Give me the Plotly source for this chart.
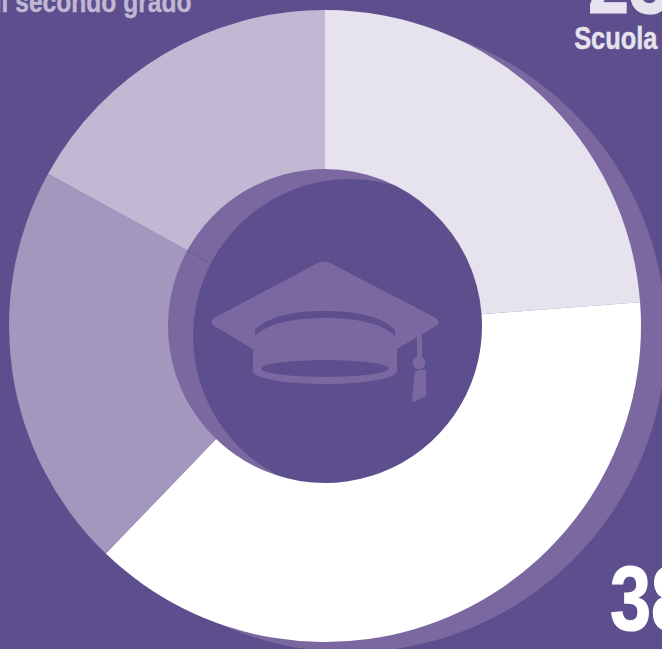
import math
import plotly.graph_objects as go

# Share of each school level, clockwise from twelve o'clock
levels = ["Scuola", "Scuola primaria", "Scuola secondaria di primo grado", "Scuola secondaria di secondo grado"]
shares = [23.8, 38.4, 20.8, 17.0]
slice_colors = ["#e6e3ef", "#ffffff", "#a397bd", "#c1b8d4"]

BG = "#5d4f8e"
SHADOW = "#7b68a0"
W, H = 662, 649
CX, CY, R, HOLE = 325, 326, 316, 157
DX, DY = 25, 10
FONT = "Liberation Sans"

# Narrows every annotation to condensed proportions and thickens its strokes a little
CONDENSE = """
document.querySelectorAll('text.annotation-text').forEach(function (t) {
  var big = parseFloat(getComputedStyle(t).fontSize) > 50;
  t.setAttribute('lengthAdjust', 'spacingAndGlyphs');
  t.setAttribute('textLength', t.getComputedTextLength() * 0.82);
  t.style.stroke = getComputedStyle(t).fill;
  t.style.strokeWidth = big ? '1.2px' : '0.4px';
});
"""


def px(x):
    return x / W


def py(y):
    return 1 - y / H


def path(cmds):
    """Build an SVG path in paper coordinates from pixel-space commands."""
    out = []
    for c in cmds:
        if isinstance(c, str):
            out.append(c)
        else:
            out.append(f"{px(c[0]):.5f},{py(c[1]):.5f}")
    return " ".join(out)


def ellipse(cx, cy, rx, ry, color, layer="below"):
    return dict(type="circle", xref="paper", yref="paper", layer=layer,
                x0=px(cx - rx), x1=px(cx + rx), y0=py(cy + ry), y1=py(cy - ry),
                fillcolor=color, line=dict(width=0))


def filled(cmds, color):
    return dict(type="path", xref="paper", yref="paper", layer="above",
                path=path(cmds), fillcolor=color, line=dict(width=0))


# Divider that carries the last slice boundary across the visible ring
angle = math.radians(360 * (1 - shares[3] / sum(shares)))
p_out = (CX + HOLE * math.sin(angle), CY - HOLE * math.cos(angle))
p_in = (CX + 133 * math.sin(angle), CY - 133 * math.cos(angle))

shapes = [
    ellipse(CX + DX, CY + DY, R, R, SHADOW),
    ellipse(CX + DX, CY + DY, HOLE, HOLE, BG),
    dict(type="line", xref="paper", yref="paper", layer="below",
         x0=px(p_out[0]), y0=py(p_out[1]), x1=px(p_in[0]), y1=py(p_in[1]),
         line=dict(color=BG, width=0.6)),
    # Graduation cap: board and body
    filled(["M", (316, 264), "Q", (324, 259), (332, 264), "L", (436, 318),
            "Q", (441, 322), (436, 326), "L", (397, 349), "L", (397, 371),
            "C", (397, 379), (360, 384), (325, 384), "C", (290, 384), (253, 379), (253, 371),
            "L", (253, 349), "L", (214, 326), "Q", (209, 322), (214, 318), "Z"], SHADOW),
    # Band under the board
    filled(["M", (255, 336), "L", (255, 330), "C", (268, 316), (295, 311), (325, 311),
            "C", (355, 311), (382, 316), (395, 330), "L", (395, 336),
            "C", (382, 323), (355, 318), (325, 318), "C", (295, 318), (268, 323), (255, 336), "Z"], BG),
    # Opening of the cap
    ellipse(325, 368.5, 64, 8.5, BG, layer="above"),
    # Tassel cord, knot and fringe
    filled(["M", (417, 335), "L", (422, 332), "L", (422, 360), "L", (417, 360), "Z"], SHADOW),
    ellipse(419, 363, 6.5, 6.5, SHADOW, layer="above"),
    filled(["M", (415, 371), "L", (426, 369), "L", (426, 396), "L", (414, 402),
            "L", (412, 400), "Z"], SHADOW),
]

annotations = [
    dict(text="38", x=px(651), y=py(599),
         font=dict(family=FONT, size=90, color="#ffffff", weight="bold")),
    dict(text="23", x=px(629), y=py(-18),
         font=dict(family=FONT, size=90, color="#e6e3ef", weight="bold")),
    dict(text="Scuola", x=px(616), y=py(38),
         font=dict(family=FONT, size=31, color="#e6e3ef", weight="bold")),
    dict(text="di secondo grado", x=px(88.5), y=py(1),
         font=dict(family=FONT, size=30, color="#c1b8d4", weight="bold")),
]
for a in annotations:
    a.update(xref="paper", yref="paper", xanchor="center", yanchor="middle",
             showarrow=False, borderpad=0)

fig = go.Figure(go.Pie(
    labels=levels,
    values=shares,
    sort=False,
    direction="clockwise",
    rotation=0,
    hole=HOLE / R,
    textinfo="none",
    hoverinfo="label+percent",
    marker=dict(colors=slice_colors, line=dict(color=BG, width=0)),
    domain=dict(x=[px(CX - R), px(CX + R)], y=[py(CY + R), py(CY - R)]),
))
fig.update_layout(
    width=W, height=H,
    margin=dict(l=0, r=0, t=0, b=0),
    paper_bgcolor=BG,
    plot_bgcolor=BG,
    showlegend=False,
    shapes=shapes,
    annotations=annotations,
)
fig.write_html("out.html", config=dict(displayModeBar=False), post_script=CONDENSE)
